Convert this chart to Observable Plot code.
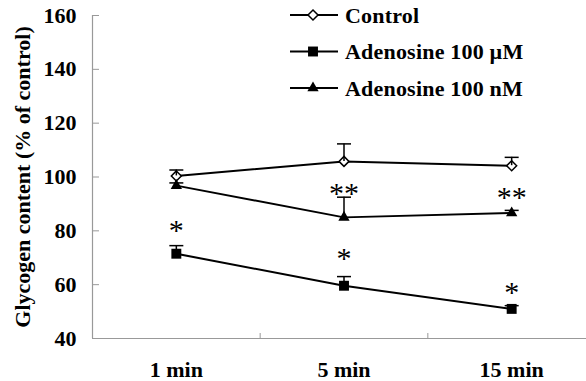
<!DOCTYPE html>
<html>
<head>
<meta charset="utf-8">
<script src="https://cdn.jsdelivr.net/npm/d3@7"></script>
<script src="https://cdn.jsdelivr.net/npm/@observablehq/plot@0.6"></script>
<style>
  body { margin: 0; background: #fff; }
  #chart { position: relative; width: 586px; height: 381px; }
  #chart svg { position: absolute; left: 0; top: 0; }
</style>
</head>
<body>
<div id="chart"></div>
<script>
// ---- data ----
const times = ["1 min", "5 min", "15 min"];
const seriesNames = ["Control", "Adenosine 100 \u00b5M", "Adenosine 100 nM"];
const control = [100.4, 105.8, 104.2];
const controlErr = [2.2, 6.5, 3.1];
const adoMicro = [71.5, 59.6, 51.0];
const adoMicroErr = [3.0, 3.4, 1.2];
const adoNano = [96.8, 85.0, 86.6];
const adoNanoErr = [1.0, 7.5, 1.0];
const yTicks = [40, 60, 80, 100, 120, 140, 160];
const sigTime = [1, 2, 2, 3, 3];
const sigY = [80.9, 94.7, 70.5, 93.1, 57.8];
const sigLabel = ["*", "**", "*", "**", "*"];
const yLabel = "Glycogen content (% of control)";

const values = [control, adoMicro, adoNano];
const errs = [controlErr, adoMicroErr, adoNanoErr];
const rows = seriesNames.flatMap((s, si) =>
  times.map((t, ti) => ({series: s, t: ti + 1, value: values[si][ti], err: errs[si][ti]})));
const sig = sigTime.map((t, i) => ({t, y: sigY[i], label: sigLabel[i]}));

const FONT = "Liberation Serif, DejaVu Serif, serif";
const capSymbol = {draw(ctx) { ctx.moveTo(-7, 0); ctx.lineTo(7, 0); }};
const styles = [
  {symbol: "diamond2", r: 4.5, fill: "white", stroke: "black", strokeWidth: 1.5},
  {symbol: "square", r: 5.6, fill: "black", stroke: "none", strokeWidth: 0},
  {symbol: "triangle", r: 4.2, fill: "black", stroke: "none", strokeWidth: 0}
];

const plot = Plot.plot({
  width: 586,
  height: 381,
  marginLeft: 92,
  marginRight: 0,
  marginTop: 15,
  marginBottom: 43,
  style: {fontFamily: FONT, fontWeight: "bold", background: "white", color: "black"},
  x: {type: "linear", domain: [0.5, 3.5], range: [92, 595]},
  y: {domain: [40, 160]},
  marks: [
    Plot.ruleX([0.5], {stroke: "#999", strokeWidth: 1.2}),
    Plot.ruleY([40], {stroke: "#999", strokeWidth: 1.2}),
    Plot.axisY({ticks: yTicks, tickSize: 7, dx: 7, tickFormat: () => "", stroke: "#999", label: null}),
    Plot.axisY({ticks: yTicks, tickSize: 0, tickPadding: 16, fontSize: 22, fontWeight: "bold", fontFamily: FONT, label: null}),
    Plot.axisX({ticks: [1.5, 2.5], tickSize: 5, dy: -5, tickFormat: () => "", stroke: "#999", label: null}),
    Plot.axisX({ticks: [1, 2, 3], tickSize: 0, tickPadding: 23, fontSize: 22, fontWeight: "bold", fontFamily: FONT,
      tickFormat: (d) => times[d - 1], label: null}),
    Plot.text([yLabel], {frameAnchor: "left", textAnchor: "middle", rotate: -90, dx: -70,
      fontSize: 22, fontWeight: "bold", fontFamily: FONT, letterSpacing: 0.3}),
    Plot.line(rows, {x: "t", y: "value", z: "series", stroke: "black", strokeWidth: 2}),
    ...seriesNames.map((s, i) => Plot.dot(rows.filter(d => d.series === s), {x: "t", y: "value", ...styles[i]})),
    Plot.ruleX(rows, {x: "t", y1: "value", y2: d => d.value + d.err, stroke: "black", strokeWidth: 1.5}),
    Plot.dot(rows, {x: "t", y: d => d.value + d.err, symbol: capSymbol, r: 1, stroke: "black", strokeWidth: 1.5}),
    Plot.text(sig, {x: "t", y: "y", text: "label", fontSize: 30, fontWeight: "normal", fontFamily: FONT, dy: 2})
  ]
});
document.getElementById("chart").appendChild(plot);

// ---- legend ----
const leg = d3.select("#chart").append("svg")
  .attr("width", 586).attr("height", 110)
  .attr("font-family", FONT).attr("font-weight", "bold");
seriesNames.forEach((s, i) => {
  const g = leg.append("g").attr("transform", `translate(0,${15 + i * 36.5})`);
  g.append("line").attr("x1", 290).attr("x2", 338).attr("y1", 0).attr("y2", 0)
    .attr("stroke", "black").attr("stroke-width", 2);
  const sym = {diamond2: d3.symbolDiamond2, square: d3.symbolSquare, triangle: d3.symbolTriangle}[styles[i].symbol];
  g.append("path")
    .attr("d", d3.symbol(sym, Math.PI * styles[i].r * styles[i].r)())
    .attr("transform", "translate(313,0)")
    .attr("fill", styles[i].fill).attr("stroke", styles[i].stroke).attr("stroke-width", styles[i].strokeWidth);
  g.append("text").attr("x", 345).attr("y", 0).attr("dy", "0.35em")
    .attr("font-size", 22).attr("letter-spacing", 0.2).text(s);
});
</script>
</body>
</html>
